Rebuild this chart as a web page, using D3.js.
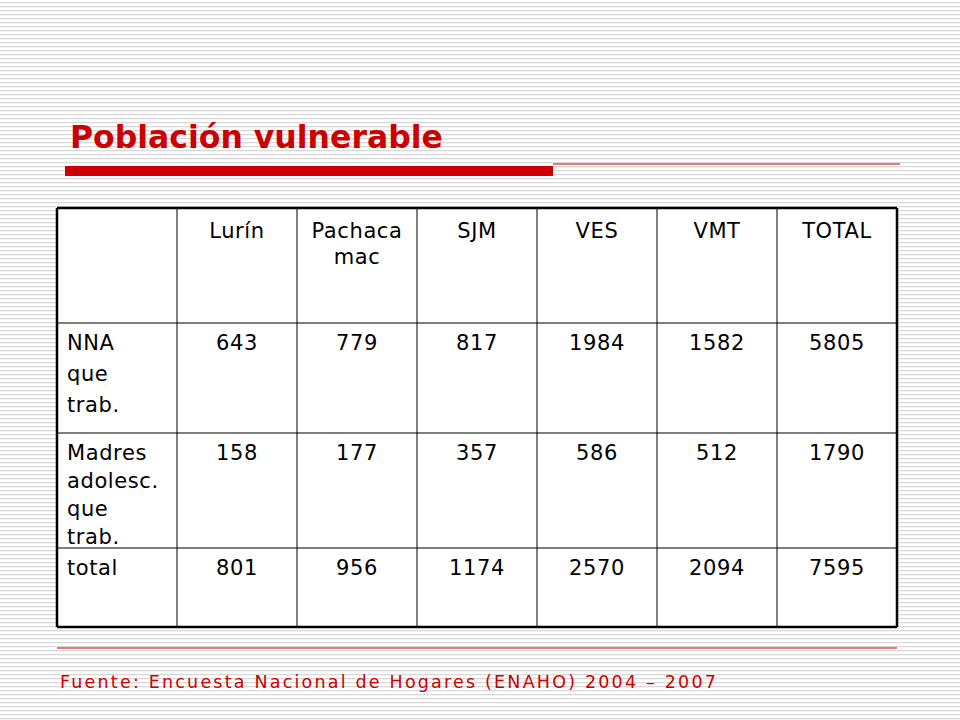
<!DOCTYPE html>
<html><head><meta charset="utf-8">
<script src="https://cdn.jsdelivr.net/npm/d3@7"></script>
<style>body{margin:0;background:#fff}</style>
</head><body>
<script>
var columns = ['', 'Lurín', 'Pachaca|mac', 'SJM', 'VES', 'VMT', 'TOTAL'];
var rowLabels = [['NNA', 'que', 'trab.'], ['Madres', 'adolesc.', 'que', 'trab.'], ['total']];
var nna = [643, 779, 817, 1984, 1582, 5805];
var madres = [158, 177, 357, 586, 512, 1790];
var totals = [801, 956, 1174, 2570, 2094, 7595];
var values = [nna, madres, totals];

var W = 960, H = 720, font = 'DejaVu Sans, Verdana, sans-serif';
var svg = d3.select('body').append('svg').attr('width', W).attr('height', H);

// striped background
var pat = svg.append('defs').append('pattern').attr('id', 'st')
  .attr('width', 4).attr('height', 4).attr('patternUnits', 'userSpaceOnUse');
pat.append('rect').attr('width', 4).attr('height', 4).attr('fill', '#fff');
pat.append('rect').attr('y', 2).attr('width', 4).attr('height', 1.3).attr('fill', '#d9d9d9');
svg.append('rect').attr('width', W).attr('height', H).attr('fill', 'url(#st)');

svg.append('text').attr('x', 70).attr('y', 148).attr('fill', '#cc0000')
  .attr('font-family', font).attr('font-weight', 'bold').attr('font-size', 31.5).text('Población vulnerable');
svg.append('rect').attr('x', 65).attr('y', 166).attr('width', 488).attr('height', 10).attr('fill', '#cc0000');
svg.append('line').attr('x1', 553).attr('x2', 900).attr('y1', 164).attr('y2', 164).attr('stroke', '#cc0000');

var x = d3.scaleLinear().domain([0, 7]).range([57, 897]);
var rowEdges = [208, 323, 433, 548, 627];

var g = svg.append('g');
g.append('rect').attr('x', x(0)).attr('y', rowEdges[0]).attr('width', x(7) - x(0))
  .attr('height', rowEdges[4] - rowEdges[0]).attr('fill', '#fff');
d3.range(8).forEach(function (i) {
  g.append('line').attr('x1', x(i)).attr('x2', x(i)).attr('y1', rowEdges[0]).attr('y2', rowEdges[4])
    .attr('stroke', '#000').attr('stroke-width', (i === 0 || i === 7) ? 2.5 : 1);
});
rowEdges.forEach(function (y, i) {
  g.append('line').attr('x1', x(0)).attr('x2', x(7)).attr('y1', y).attr('y2', y)
    .attr('stroke', '#000').attr('stroke-width', (i === 0 || i === 4) ? 2.5 : 1);
});

function cellText(lines, cx, y0, anchor, step) {
  var t = g.append('text').attr('font-family', font).attr('font-size', 21).attr('fill', '#000')
    .attr('letter-spacing', 0.6).attr('text-anchor', anchor);
  lines.forEach(function (l, k) {
    t.append('tspan').attr('x', cx).attr('y', y0 + k * step).text(l);
  });
}
columns.forEach(function (c, i) {
  if (c) cellText(c.split('|'), (x(i) + x(i + 1)) / 2, 238, 'middle', 26);
});
rowLabels.forEach(function (lab, r) {
  var y0 = rowEdges[r + 1] + 27;
  cellText(lab, x(0) + 10, y0, 'start', r === 0 ? 31 : 28);
  values[r].forEach(function (v, c) {
    cellText([String(v)], (x(c + 1) + x(c + 2)) / 2, y0, 'middle', 28);
  });
});

svg.append('line').attr('x1', 57).attr('x2', 897).attr('y1', 648).attr('y2', 648).attr('stroke', '#cc0000');
svg.append('text').attr('x', 60).attr('y', 688).attr('fill', '#cc0000').attr('font-family', font)
  .attr('font-size', 17.5).attr('letter-spacing', 2.2).text('Fuente: Encuesta Nacional de Hogares (ENAHO) 2004 – 2007');
</script>
</body></html>
